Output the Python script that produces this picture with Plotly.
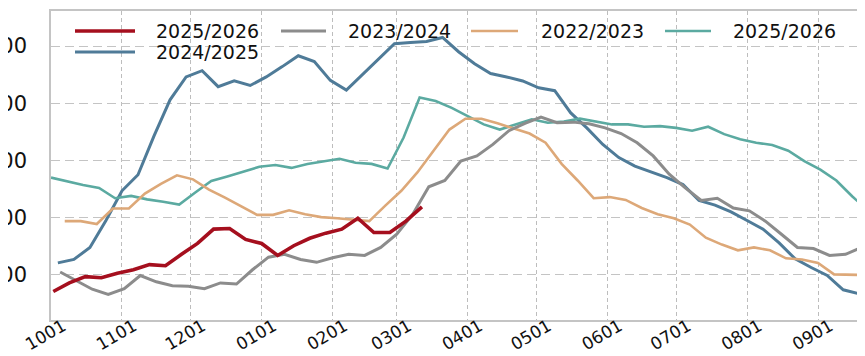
import pandas as pd
import plotly.graph_objects as go

# ---------------- data (weekly observations, season Oct -> Sep) ----------------
tick_labels = ["1001", "1101", "1201", "0101", "0201", "0301",
               "0401", "0501", "0601", "0701", "0801", "0901"]
y_ticks = [100, 200, 300, 400, 500]

red_2025_2026 = [71, 86, 97, 95, 103, 109, 118, 116, 136, 155, 180, 181,
                 162, 155, 134, 151, 164, 173, 180, 199, 174, 174, 194, 219]
gray_2023_2024 = [105, 90, 75, 66, 76, 99, 88, 81, 80, 76, 86, 84, 109, 131,
                  136, 127, 122, 130, 136, 134, 148, 171, 206, 254, 265, 299,
                  308, 328, 352, 365, 376, 366, 367, 364, 357, 347, 331, 308,
                  276, 252, 230, 234, 217, 212, 194, 171, 148, 146, 134, 136,
                  148, 112]
tan_2022_2023 = [194, 194, 189, 216, 216, 242, 259, 274, 267, 249, 235, 220,
                 205, 205, 213, 206, 201, 199, 196, 194, 221, 247, 279, 317,
                 354, 373, 373, 365, 356, 347, 331, 294, 265, 234, 236, 231,
                 217, 206, 199, 188, 165, 153, 143, 148, 143, 129, 127, 121,
                 101, 100, 99, 99]
teal_2025_2026b = [270, 263, 257, 252, 234, 238, 232, 228, 223, 244, 264, 272,
                   280, 289, 292, 287, 294, 299, 303, 296, 294, 286, 340, 410,
                   404, 392, 377, 363, 354, 363, 372, 366, 368, 373, 368, 363,
                   363, 359, 360, 357, 352, 359, 346, 337, 331, 327, 317, 299,
                   284, 265, 237, 212]
blue_2024_2025 = [121, 127, 148, 195, 247, 275, 343, 406, 446, 457, 429, 439,
                  431, 446, 464, 483, 473, 440, 423, 450, 478, 504, 506, 508,
                  515, 490, 469, 452, 446, 439, 427, 422, 383, 357, 328, 305,
                  290, 280, 270, 258, 230, 222, 210, 195, 180, 156, 128, 113,
                  99, 74, 67, 72]

# first observation date of each season (mapped on a common Oct->Sep axis)
start_dates = {
    "red": "2024-10-02",
    "gray": "2024-10-05",
    "tan": "2024-10-07",
    "teal": "2024-10-01",
    "blue": "2024-10-04",
}

series = [
    # key, legend name, values, colour, width
    ("blue", "2024/2025", blue_2024_2025, "#4F7B98", 3.0),
    ("teal", "2025/2026", teal_2025_2026b, "#5BAAA1", 2.6),
    ("tan", "2022/2023", tan_2022_2023, "#DDA878", 2.6),
    ("gray", "2023/2024", gray_2023_2024, "#8C8C8C", 3.0),
    ("red", "2025/2026", red_2025_2026, "#A50F1E", 3.6),
]

tick_dates = pd.date_range("2024-10-01", periods=12, freq="MS")
x_range = ["2024-10-01", "2025-09-25"]
y_range = [21.2, 561.2]

FONT = "DejaVu Sans"

fig = go.Figure()
for key, name, vals, color, width in series:
    x = pd.date_range(start_dates[key], periods=len(vals), freq="7D")
    fig.add_trace(go.Scatter(
        x=x, y=vals, mode="lines", name=name, showlegend=False,
        line=dict(color=color, width=width),
    ))

# ---------------- manual legend (two rows, inside top-left) ----------------
W, H, L, T = 822, 309.3, 43, 3.0
def px(xp):
    return (xp - L) / W
def py(yp):
    return (T + H - yp) / H

legend_items = [
    # colour, width, label, sample x0, x1, text x, row y
    ("#A50F1E", 3.6, "2025/2026", 67, 127, 147, 23),
    ("#8C8C8C", 3.0, "2023/2024", 273, 318, 339, 23),
    ("#DDA878", 2.6, "2022/2023", 463, 510, 532, 23),
    ("#5BAAA1", 2.6, "2025/2026", 657, 703, 724, 23),
    ("#4F7B98", 3.0, "2024/2025", 67, 127, 147, 44),
]
for color, width, label, x0, x1, xt, yr in legend_items:
    fig.add_shape(type="line", xref="paper", yref="paper",
                  x0=px(x0), x1=px(x1), y0=py(yr), y1=py(yr),
                  line=dict(color=color, width=width))
    fig.add_annotation(xref="paper", yref="paper", x=px(xt), y=py(yr),
                       text=label, showarrow=False, xanchor="left",
                       yanchor="middle", borderpad=0,
                       font=dict(family=FONT, size=19, color="#111111"))

fig.update_layout(
    width=865, height=356,
    margin=dict(l=43, r=0, t=3, b=44),
    paper_bgcolor="white", plot_bgcolor="white",
    showlegend=False,
    font=dict(family=FONT, color="#111111"),
)
fig.update_xaxes(
    type="date", range=x_range,
    tickmode="array", tickvals=tick_dates, ticktext=tick_labels,
    tickangle=-30, tickfont=dict(family=FONT, size=17, color="#111111"),
    ticklabelshift=12, ticklabelstandoff=-12, ticklabeloverflow="allow",
    showgrid=True, gridcolor="#BDBDBD", gridwidth=1.2, griddash="4px,3px",
    showline=True, linecolor="#C4C4C4", linewidth=1.6, mirror=True,
    ticks="", zeroline=False, automargin=False,
)
fig.update_yaxes(
    range=y_range, tickmode="array", tickvals=y_ticks,
    tickfont=dict(family=FONT, size=21, color="#111111"),
    ticklabelstandoff=18, ticklabeloverflow="allow",
    showgrid=True, gridcolor="#C4C4C4", gridwidth=1.3, griddash="9px,5px",
    showline=True, linecolor="#C4C4C4", linewidth=1.6,
    ticks="", zeroline=False, automargin=False,
)

fig.write_html("out.html")
